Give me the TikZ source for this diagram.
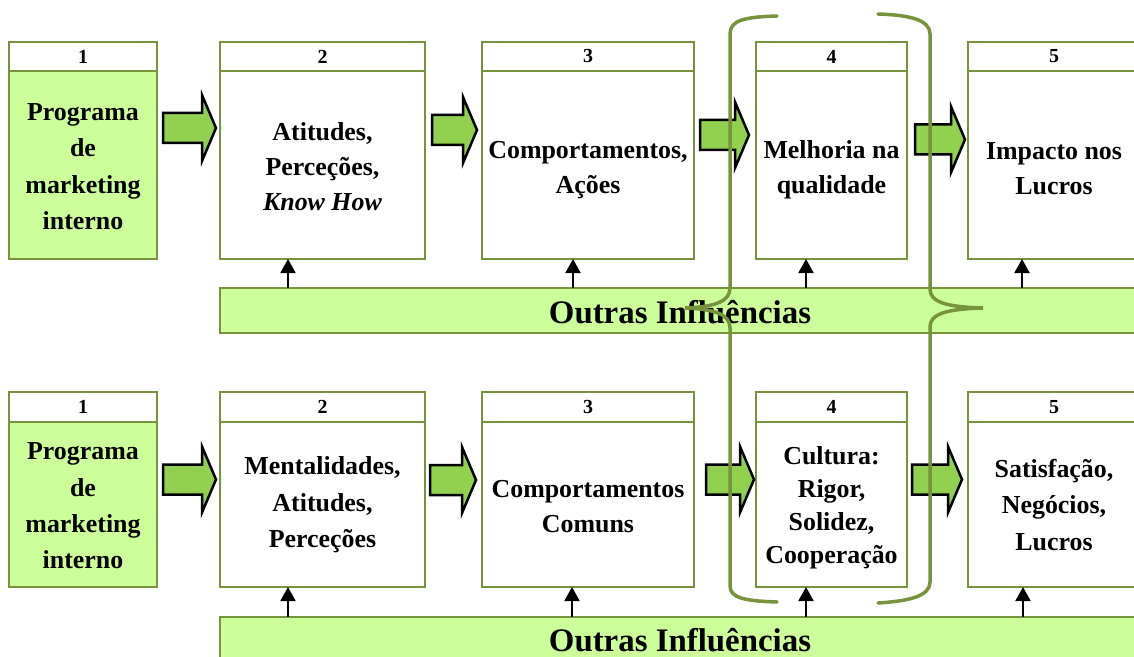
\documentclass[tikz,border=0pt]{standalone}
\usepackage{fontspec}
\setmainfont{Liberation Serif}
\usetikzlibrary{arrows.meta}

\definecolor{boxline}{HTML}{77933C}
\definecolor{palegreen}{HTML}{CCFF99}
\definecolor{arrowgreen}{HTML}{92D050}

\tikzset{
  frame/.style={draw=boxline, line width=2.5bp, inner sep=0pt, outer sep=0pt},
  hdr/.style={frame, fill=white, font=\bfseries\fontsize{20}{24}\selectfont},
  bodybox/.style={frame, fill=white},
  firstfill/.style={fill=palegreen},
  bodytext/.style={align=center, inner sep=0pt,
    font=\bfseries\fontsize{26}{35}\selectfont},
  widelines/.style={font=\bfseries\fontsize{26}{36.5}\selectfont},
  tightlines/.style={font=\bfseries\fontsize{26}{33}\selectfont},
  bar/.style={frame, fill=palegreen, minimum width=920bp, minimum height=45bp},
  bartext/.style={font=\bfseries\fontsize{33}{38}\selectfont, inner sep=0pt},
  blockarr/.style={draw=black, fill=arrowgreen, line width=2.5bp, miter limit=10},
  uparrow/.style={draw=black, line width=2bp, -{Triangle[length=14bp,width=15bp]}},
  brace/.style={draw=boxline, line width=3.5bp, line cap=round},
}

% stage box: numbered header above a framed body
% #1 name, #2 left, #3 right, #4 top, #5 header line, #6 bottom,
% #7 body style, #8 number
\newcommand\stage[8]{%
  \node[hdr, minimum width={(#3-#2)*1bp}, minimum height={(#5-#4)*1bp}]
    (#1h) at ({(#2+#3)/2},{(#4+#5)/2}) {#8};
  \node[bodybox, #7, minimum width={(#3-#2)*1bp}, minimum height={(#6-#5)*1bp}]
    (#1) at ({(#2+#3)/2},{(#5+#6)/2}) {};
}

% wide block arrow: #1 start x, #2 tip x, #3 centre y
\newcommand\blockarrow[3]{%
  \draw[blockarr] (#1,#3-15) -- (#2-14,#3-15) -- (#2-14,#3-33) -- (#2,#3)
    -- (#2-14,#3+33) -- (#2-14,#3+15) -- (#1,#3+15) -- cycle;
}

\begin{document}
\begin{tikzpicture}[x=1bp, y=-1bp]
\useasboundingbox (0,0) rectangle (1134,657);

% ---- upper chain ----
\stage{t1}{9}{157}{42}{71}{259}{firstfill}{1}
\stage{t2}{220}{425}{42}{71}{259}{}{2}
\stage{t3}{482}{694}{42}{71}{259}{}{3}
\stage{t4}{756}{907}{42}{71}{259}{}{4}
\stage{t5}{968}{1140}{42}{71}{259}{}{5}

\node[bodytext, widelines, yshift=-1.5bp] (t1t) at (t1) {Programa\\de\\marketing\\interno};
\node[bodytext, yshift=-2bp] (t2t) at (t2) {Atitudes,\\Perceções,\\\textit{Know How}};
\node[bodytext, yshift=-5bp] (t3t) at (t3) {Comportamentos,\\Ações};
\node[bodytext, yshift=-5bp] (t4t) at (t4) {Melhoria na\\qualidade};
\node[bodytext, yshift=-4bp] (t5t) at (t5) {Impacto nos\\Lucros};

\blockarrow{163}{216}{128}
\blockarrow{432}{477}{130}
\blockarrow{700}{749}{135}
\blockarrow{915}{965}{139.5}

\node[bar] (barT) at (680,310.5) {};
\node[bartext, yshift=-2bp] (barTt) at (barT) {Outras Influências};

\draw[uparrow] (288,0 |- barT.north) -- (288,0 |- t2.south);
\draw[uparrow] (573,0 |- barT.north) -- (573,0 |- t3.south);
\draw[uparrow] (806,0 |- barT.north) -- (806,0 |- t4.south);
\draw[uparrow] (1022,0 |- barT.north) -- (1022,0 |- t5.south);

% ---- lower chain ----
\stage{b1}{9}{157}{392}{422}{587}{firstfill}{1}
\stage{b2}{220}{425}{392}{422}{587}{}{2}
\stage{b3}{482}{694}{392}{422}{587}{}{3}
\stage{b4}{756}{907}{392}{422}{587}{}{4}
\stage{b5}{968}{1140}{392}{422}{587}{}{5}

\node[bodytext, widelines, yshift=-1.5bp] (b1t) at (b1) {Programa\\de\\marketing\\interno};
\node[bodytext, widelines, yshift=-0.5bp] (b2t) at (b2) {Mentalidades,\\Atitudes,\\Perceções};
\node[bodytext, yshift=-2bp] (b3t) at (b3) {Comportamentos\\Comuns};
\node[bodytext, tightlines, yshift=-3bp] (b4t) at (b4) {Cultura:\\Rigor,\\Solidez,\\Cooperação};
\node[bodytext, widelines, yshift=-0.5bp] (b5t) at (b5) {Satisfação,\\Negócios,\\Lucros};

\blockarrow{163}{216}{479.5}
\blockarrow{430}{476}{480}
\blockarrow{706}{754}{479.5}
\blockarrow{912}{962}{479.5}

\node[bar] (barB) at (680,639.5) {};
\node[bartext, yshift=-1bp] (barBt) at (barB) {Outras Influências};

\draw[uparrow] (288,0 |- barB.north) -- (288,0 |- b2.south);
\draw[uparrow] (572,0 |- barB.north) -- (572,0 |- b3.south);
\draw[uparrow] (806,0 |- barB.north) -- (806,0 |- b4.south);
\draw[uparrow] (1023,0 |- barB.north) -- (1023,0 |- b5.south);

% ---- tall braces around stage 4 ----
\draw[brace] (777,16) .. controls (745,17) and (730,20) .. (730,34)
  -- (730,288) .. controls (730,301) and (716,307) .. (685,308)
  .. controls (716,309) and (730,315) .. (730,328)
  -- (730,586) .. controls (730,598) and (745,601) .. (777,602);
\draw[brace] (878,14) .. controls (910,15) and (930,20) .. (930,34)
  -- (930,289) .. controls (930,302) and (946,307) .. (983,308)
  .. controls (946,309) and (930,314) .. (930,327)
  -- (930,582) .. controls (930,596) and (910,601) .. (878,603);
\end{tikzpicture}
\end{document}
